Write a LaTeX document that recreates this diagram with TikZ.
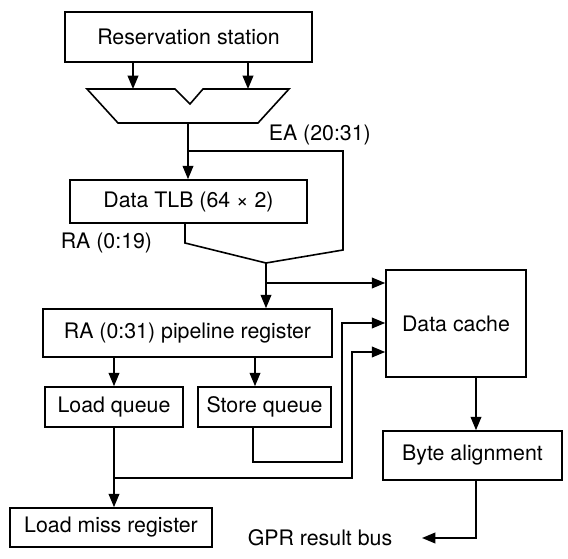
\documentclass[tikz,border=0pt]{standalone}
\usepackage{fontspec}
\setmainfont{TeX Gyre Heros}
\usetikzlibrary{arrows.meta}
\tikzset{
  box/.style={draw, line width=1.2pt, inner sep=0pt, font=\fontsize{16}{18}\selectfont},
  arr/.style={-{Triangle[length=10pt,width=8pt]}},
  lbl/.style={font=\fontsize{16}{18}\selectfont, inner sep=0pt}
}
\begin{document}
\begin{tikzpicture}[x=0.75pt,y=-0.75pt, line width=1.2pt, line join=miter]
\useasboundingbox (0,0) rectangle (568,559);

% blocks (sizes in pt: 0.75pt per unit)
\node[box, minimum width=185.25pt, minimum height=37.5pt] (rs)  at (188.5,37)  {Reservation station};
\node[box, minimum width=177.75pt, minimum height=32.25pt] (tlb) at (188.5,201.5) {Data TLB (64 × 2)};
\node[box, minimum width=216.75pt, minimum height=36pt]   (pr)  at (187.5,333) {RA (0:31) pipeline register};
\node[box, minimum width=103.5pt,  minimum height=30pt]   (lq)  at (114,407)   {Load queue};
\node[box, minimum width=99.75pt,  minimum height=30pt]   (sq)  at (264.5,407) {Store queue};
\node[box, minimum width=151.5pt,  minimum height=29.25pt] (lmr) at (111,527.5) {Load miss register};
\node[box, minimum width=105pt,    minimum height=80.25pt] (dc)  at (456,323.5) {Data cache};
\node[box, minimum width=134.25pt, minimum height=36.75pt] (ba)  at (472.5,455.5) {Byte alignment};

% labels
\node[lbl, anchor=west] (ea)  at (268,135) {EA (20:31)};
\node[lbl, anchor=west] (ra)  at (60,243)  {RA (0:19)};
\node[lbl, anchor=west] (gpr) at (247,538) {GPR result bus};

% address adder
\coordinate (a1) at (87,89);
\coordinate (a2) at (175,89);
\coordinate (a3) at (190,104);
\coordinate (a4) at (203,89);
\coordinate (a5) at (289,89);
\coordinate (a6) at (258,123);
\coordinate (a7) at (118,123);
\draw (a1) -- (a2) -- (a3) -- (a4) -- (a5) -- (a6) -- (a7) -- cycle;
\coordinate (ain1) at (133,89);
\coordinate (ain2) at (248,89);
\coordinate (aout) at (188,123);

% helper points for the routed buses
\coordinate (ea1)   at (343,151);
\coordinate (ea2)   at (343,250);
\coordinate (ra1)   at (185,243);
\coordinate (merge) at (266,263);
\coordinate (dcA)   at (0,283);
\coordinate (dcB)   at (0,323);
\coordinate (dcC)   at (0,352);
\coordinate (sqx)   at (253,0);
\coordinate (sqr)   at (342,462);
\coordinate (lqr)   at (352,352);
\coordinate (lqy)   at (0,478);
\coordinate (sqin)  at (255,0);
\coordinate (bax)   at (476,0);
\coordinate (busend) at (422,538);

% operands into the adder
\draw[arr] (rs.south -| ain1) -- (ain1);
\draw[arr] (rs.south -| ain2) -- (ain2);

% effective address
\draw[arr] (aout) -- (tlb.north -| aout);
\draw (aout |- ea1) -- (ea1) -- (ea2) -- (merge);

% real address
\draw (tlb.south -| ra1) -- (ra1) -- (merge);
\draw[arr] (merge) -- (pr.north -| merge);
\draw[arr] (merge |- dcA) -- (dc.west |- dcA);

% pipeline register to queues
\draw[arr] (pr.south -| lq.north) -- (lq.north);
\draw[arr] (pr.south -| sqin) -- (sq.north -| sqin);

% store queue to cache
\draw[arr] (sq.south -| sqx) |- (sqr) |- (dc.west |- dcB);

% load queue to miss register and cache
\draw[arr] (lq.south) -- (lq.south |- lmr.north);
\draw[arr] (lq.south |- lqy) -| (lqr) -- (dc.west |- dcC);

% cache output
\draw[arr] (dc.south -| bax) -- (ba.north -| bax);
\draw[arr] (ba.south -| bax) |- (busend);
\end{tikzpicture}
\end{document}
